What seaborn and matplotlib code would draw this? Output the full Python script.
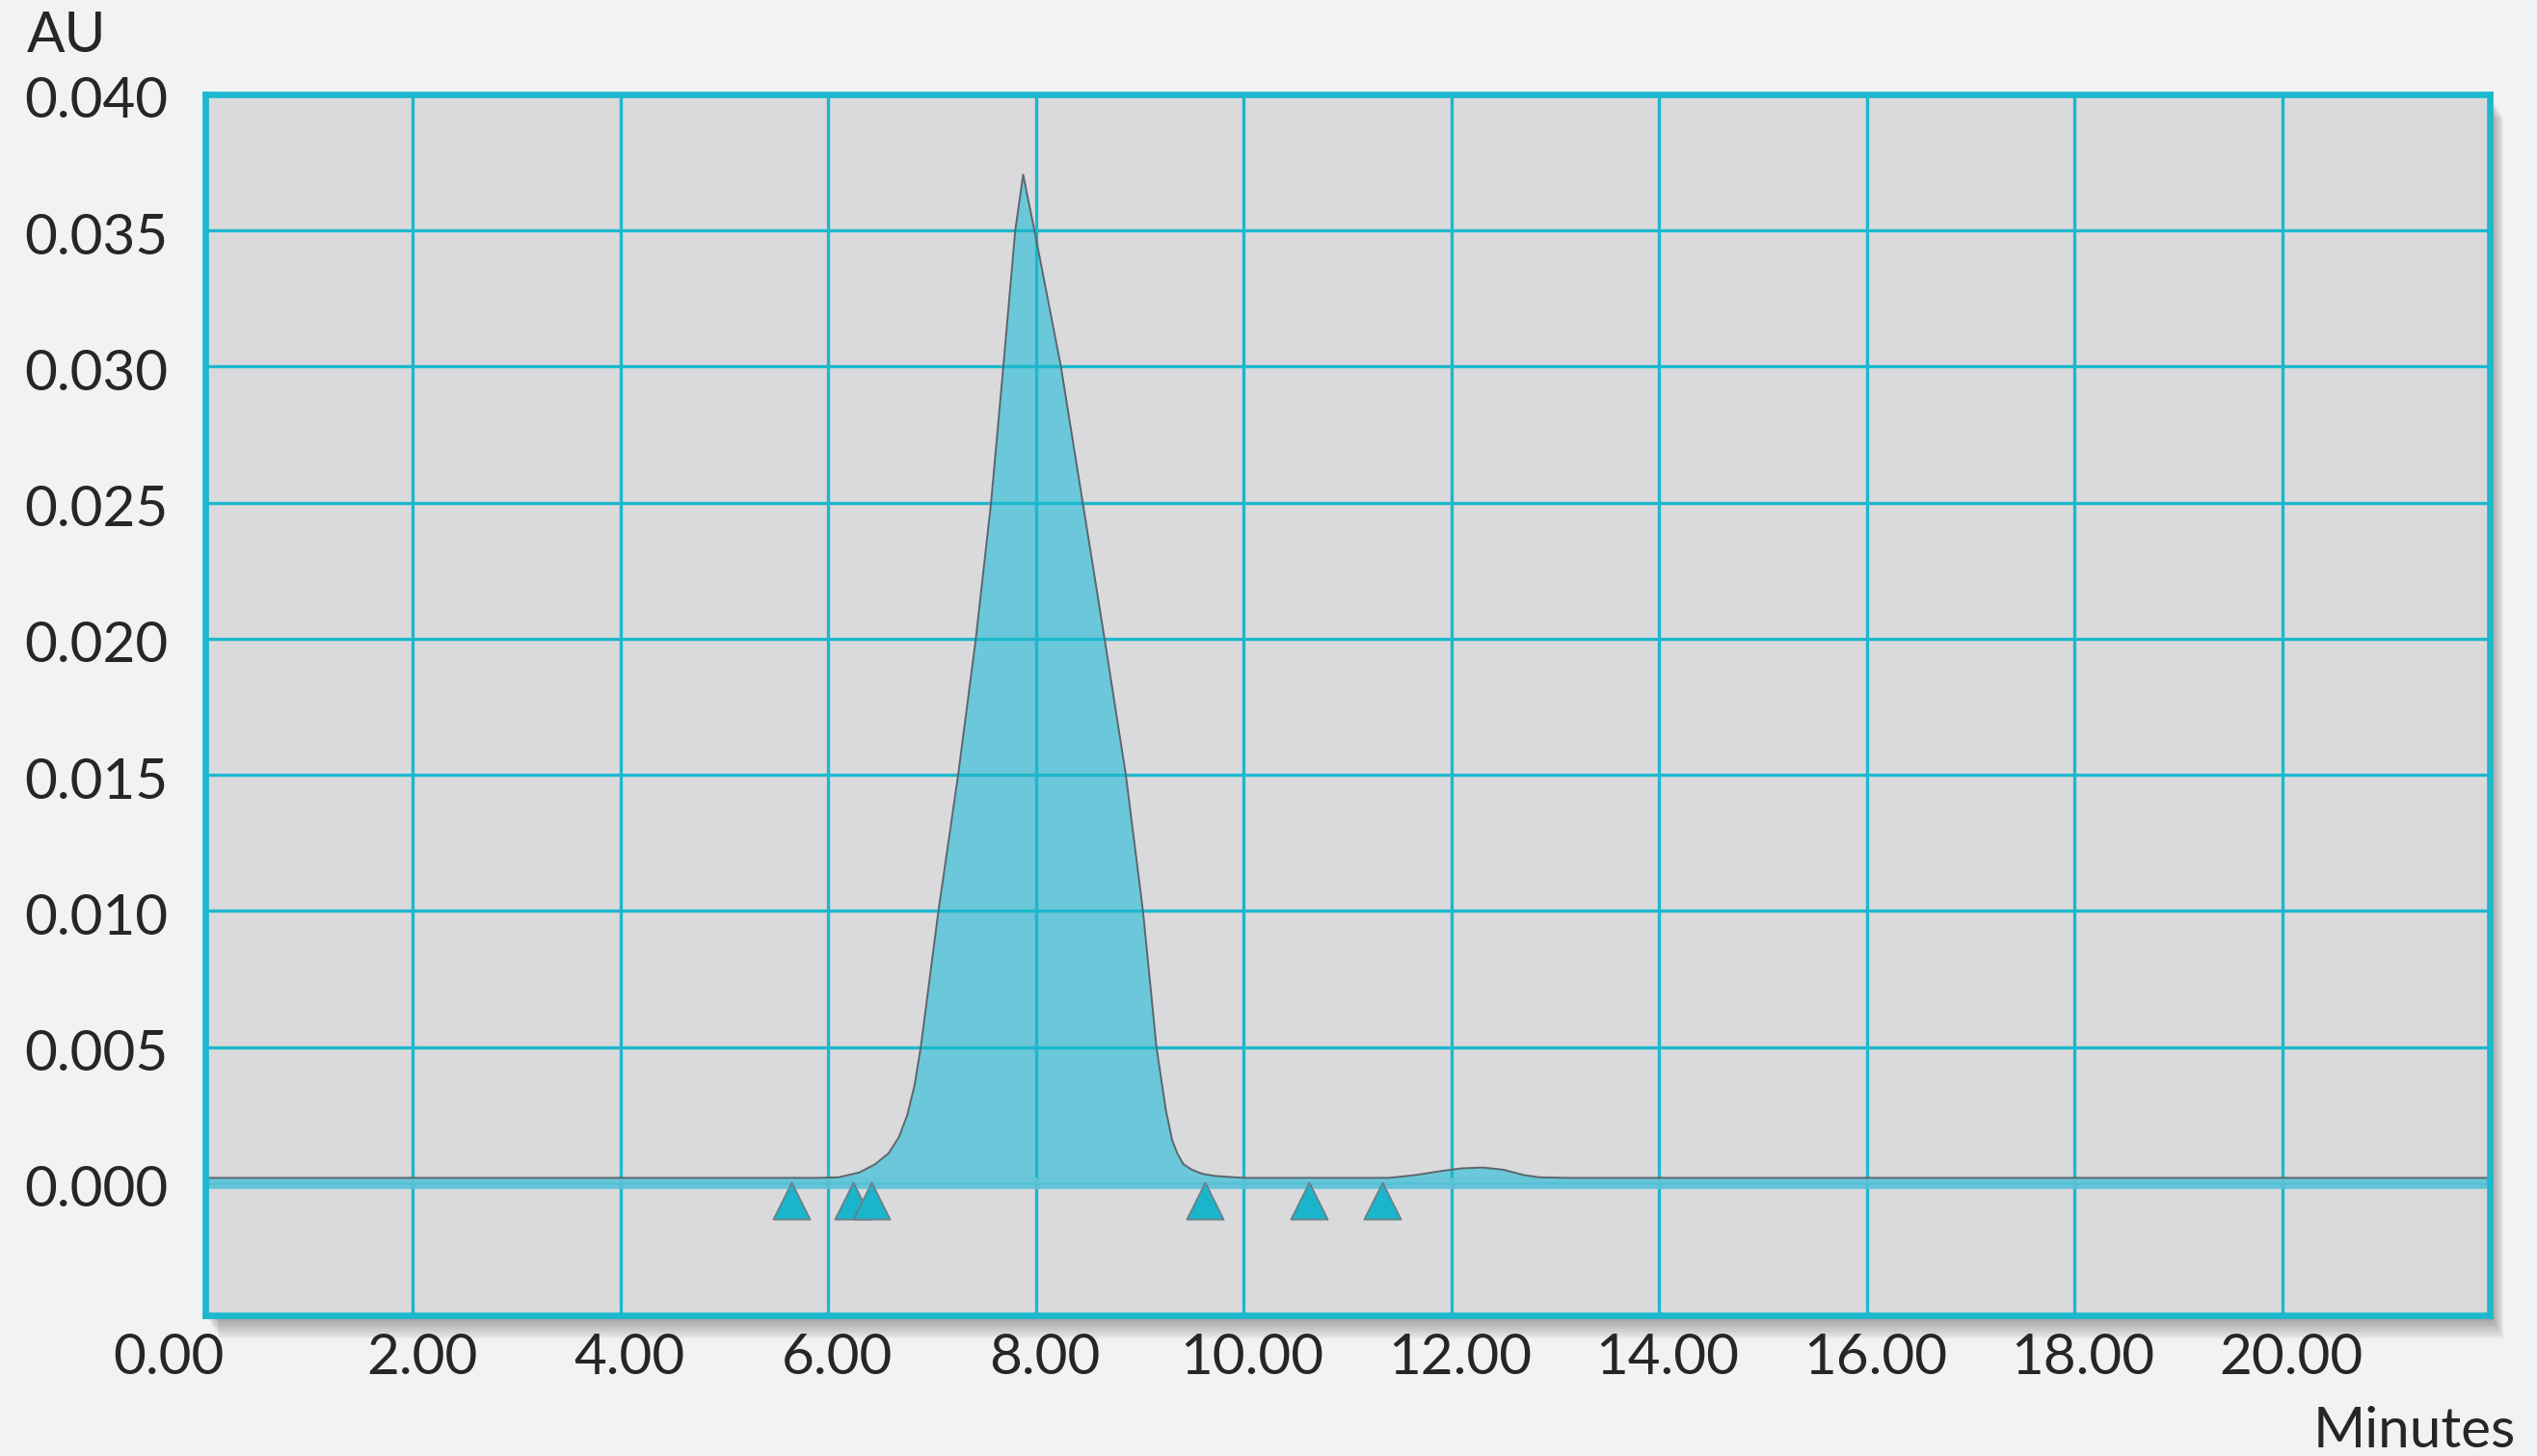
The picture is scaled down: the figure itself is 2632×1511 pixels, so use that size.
import matplotlib
matplotlib.use("Agg")
import matplotlib.pyplot as plt
import matplotlib.transforms as mtransforms
from matplotlib.patches import Rectangle
import seaborn as sns

# chromatogram trace (minutes, AU)
time_min = [0.0, 5.9, 6.1, 6.3, 6.45, 6.58, 6.68, 6.76, 6.83, 6.89, 7.06, 7.25,
            7.42, 7.567, 7.685, 7.80, 7.876, 7.985, 8.24, 8.45, 8.66, 8.865, 9.03,
            9.16, 9.25, 9.31, 9.36, 9.42, 9.5, 9.6, 9.72, 10.0, 11.4, 11.65, 11.9,
            12.1, 12.3, 12.5, 12.7, 12.85, 13.1, 22.0]
absorbance = [0.0002, 0.0002, 0.00022, 0.0004, 0.0007, 0.0011, 0.0017, 0.0025,
              0.0036, 0.005, 0.010, 0.015, 0.020, 0.025, 0.030, 0.035, 0.03705,
              0.035, 0.030, 0.025, 0.020, 0.015, 0.010, 0.005, 0.0027, 0.0016,
              0.0011, 0.0007, 0.0005, 0.00035, 0.00027, 0.0002, 0.0002, 0.0003,
              0.00045, 0.00055, 0.00058, 0.0005, 0.0003, 0.00022, 0.0002, 0.0002]

# integration markers under the baseline
marker_times = [5.645, 6.24, 6.41, 9.63, 10.63, 11.33]
marker_au = [-0.00065, -0.00065, -0.00065, -0.00065, -0.00065, -0.00065]

x_ticks = [0, 2, 4, 6, 8, 10, 12, 14, 16, 18, 20]
x_labels = ["0.00", "2.00", "4.00", "6.00", "8.00", "10.00", "12.00", "14.00",
            "16.00", "18.00", "20.00"]
y_ticks = [0.000, 0.005, 0.010, 0.015, 0.020, 0.025, 0.030, 0.035, 0.040]
y_labels = ["0.000", "0.005", "0.010", "0.015", "0.020", "0.025", "0.030",
            "0.035", "0.040"]

teal = "#1cb8cd"
fill_col = "#62c6da"
text_col = "#262626"

sns.set_theme(style="white")
plt.rcParams['font.family'] = ['Lato', 'DejaVu Sans']

W, H = 2632, 1511
fig = plt.figure(figsize=(W / 100, H / 100), dpi=100, facecolor="#f1f2f3")

left, right, top, bottom = 213, 2583, 98, 1365
rect = [left / W, 1 - bottom / H, (right - left) / W, (bottom - top) / H]

# soft drop shadow behind the plot box
for i in range(1, 11):
    off = i * 2.4
    fig.patches.append(Rectangle((rect[0] + off * 0.6 / W, rect[1] - off / H),
                                 rect[2], rect[3], transform=fig.transFigure,
                                 facecolor="black", alpha=0.04, edgecolor="none",
                                 zorder=-1))

ax = fig.add_axes(rect)
ax.set_zorder(2)
ax.set_facecolor("#dadadc")
ax.set_xlim(0, 22)
ax.set_ylim(-0.00485, 0.040)

ax.set_axisbelow("line")
ax.fill_between(time_min, absorbance, 0.0002, color=fill_col, alpha=0.92,
                linewidth=0, zorder=1)
ax.axhline(0, color="#5cc3d8", lw=8.6, alpha=0.9, solid_capstyle="round", zorder=2.2)
sns.lineplot(x=time_min, y=absorbance, ax=ax, color="#5b676b", lw=1.4,
             sort=False, estimator=None, zorder=3)
sns.scatterplot(x=marker_times, y=marker_au, ax=ax, marker="^", s=760,
                color="#1bb5cb", edgecolor="#6d7d83", linewidth=1.2, zorder=4)

ax.set_xticks(x_ticks)
ax.set_xticklabels(x_labels)
ax.set_yticks(y_ticks)
ax.set_yticklabels(y_labels)
ax.grid(True, color=teal, lw=2.4)
ax.tick_params(axis="both", length=0, labelsize=42, labelcolor=text_col)
ax.tick_params(axis="x", pad=13)
ax.tick_params(axis="y", pad=135)

for lab in ax.get_yticklabels():
    lab.set_ha("left")
    lab.set_transform(lab.get_transform() +
                      mtransforms.ScaledTranslation(0, -0.03, fig.dpi_scale_trans))
for i, lab in enumerate(ax.get_xticklabels()):
    dx = -0.38 if i == 0 else 0.09
    lab.set_transform(lab.get_transform() +
                      mtransforms.ScaledTranslation(dx, 0, fig.dpi_scale_trans))

for sp in ax.spines.values():
    sp.set_visible(True)
    sp.set_color(teal)
    sp.set_linewidth(4.8)
    sp.set_zorder(5)

ax.set_xlabel("")
ax.set_ylabel("")
fig.text(28 / W, 1 - 38 / H, "AU", fontsize=42, color=text_col, ha="left", va="center")
fig.text(2610 / W, 1 - 1485 / H, "Minutes", fontsize=42, color=text_col,
         ha="right", va="center")

fig.savefig("out.png", dpi=100, facecolor=fig.get_facecolor())
